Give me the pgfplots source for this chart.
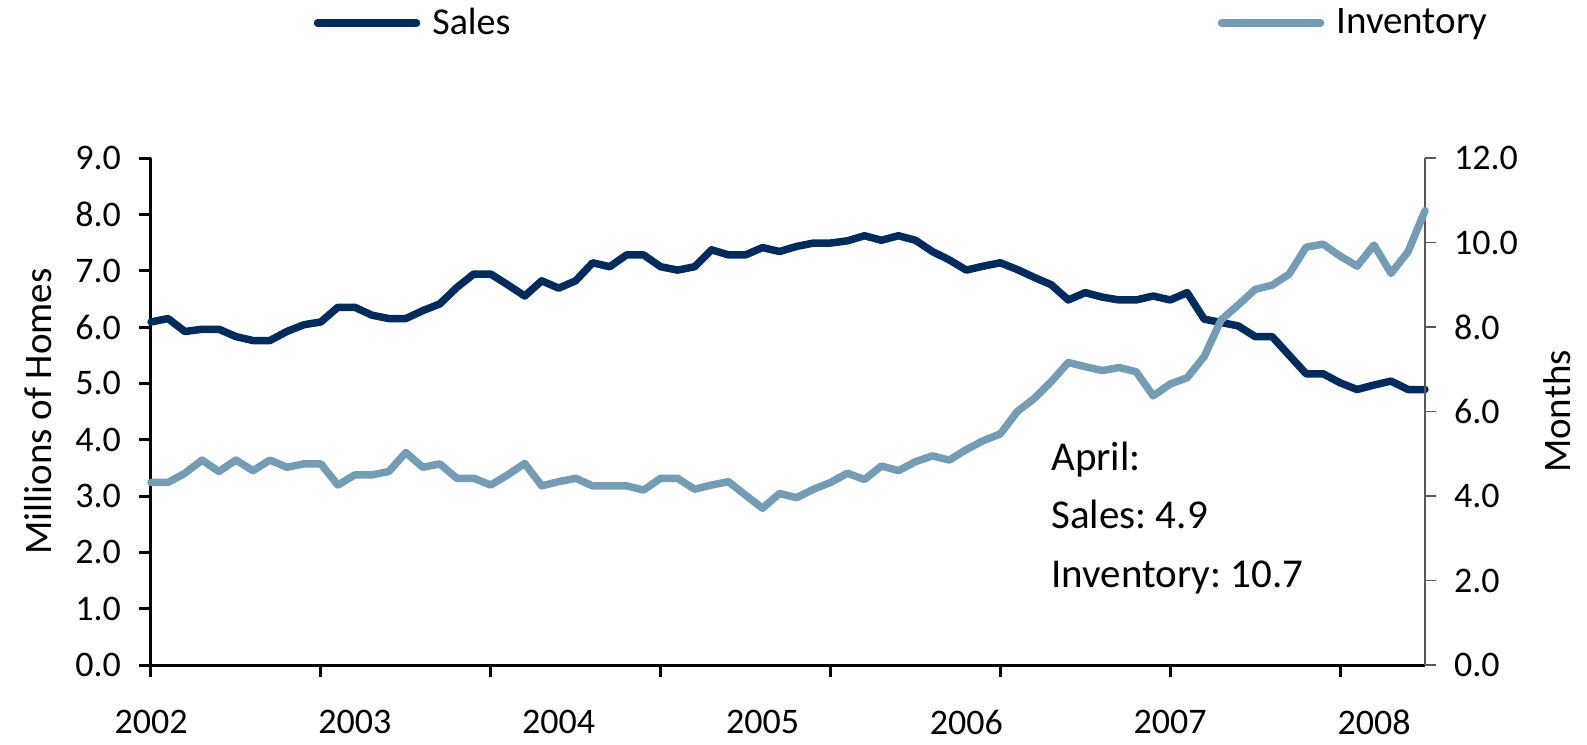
\documentclass[border=0pt]{standalone}
\usepackage{fontspec}
\setmainfont{Carlito}
\usepackage{pgfplots}
\pgfplotsset{compat=1.18}
\usepackage{pgfplotstable}
\definecolor{salescol}{HTML}{002B5C}
\definecolor{invcol}{HTML}{749CB4}
\frenchspacing

\pgfplotstableread{
m v
0 6.09
1 6.15
2 5.92
3 5.96
4 5.96
5 5.83
6 5.76
7 5.76
8 5.92
9 6.04
10 6.09
11 6.35
12 6.35
13 6.21
14 6.15
15 6.15
16 6.29
17 6.41
18 6.70
19 6.94
20 6.94
21 6.75
22 6.55
23 6.82
24 6.69
25 6.82
26 7.14
27 7.07
28 7.28
29 7.28
30 7.07
31 7.01
32 7.07
33 7.37
34 7.28
35 7.28
36 7.41
37 7.34
38 7.43
39 7.49
40 7.49
41 7.53
42 7.62
43 7.54
44 7.62
45 7.54
46 7.34
47 7.19
48 7.01
49 7.08
50 7.14
51 7.02
52 6.88
53 6.75
54 6.48
55 6.61
56 6.53
57 6.48
58 6.48
59 6.55
60 6.48
61 6.61
62 6.14
63 6.08
64 6.02
65 5.83
66 5.83
67 5.50
68 5.17
69 5.17
70 5.01
71 4.89
72 4.97
73 5.04
74 4.89
75 4.89
}\sales

\pgfplotstableread{
m v
0 4.32
1 4.32
2 4.54
3 4.85
4 4.58
5 4.85
6 4.60
7 4.85
8 4.68
9 4.76
10 4.76
11 4.26
12 4.50
13 4.50
14 4.58
15 5.03
16 4.68
17 4.76
18 4.42
19 4.42
20 4.26
21 4.50
22 4.77
23 4.24
24 4.34
25 4.42
26 4.24
27 4.24
28 4.24
29 4.14
30 4.42
31 4.42
32 4.16
33 4.26
34 4.34
35 4.02
36 3.71
37 4.06
38 3.96
39 4.16
40 4.32
41 4.54
42 4.39
43 4.71
44 4.60
45 4.81
46 4.95
47 4.85
48 5.10
49 5.31
50 5.47
51 6.00
52 6.31
53 6.71
54 7.16
55 7.06
56 6.97
57 7.04
58 6.94
59 6.37
60 6.65
61 6.80
62 7.30
63 8.17
64 8.52
65 8.89
66 8.99
67 9.25
68 9.89
69 9.96
70 9.68
71 9.44
72 9.94
73 9.27
74 9.78
75 10.75
}\inventory

\pgfplotsset{
  legimg/.style={legend image code/.code={\draw[##1,line width=3.75pt,line cap=round] (0pt,0pt) -- (49.5pt,0pt);}},
  onedec/.style={/pgf/number format/fixed, /pgf/number format/fixed zerofill, /pgf/number format/precision=1},
}

\begin{document}
\begin{tikzpicture}
\path[use as bounding box] (-75.5pt,-40pt) rectangle (718pt,332.5pt);
\begin{axis}[
  at={(0,0)}, anchor=south west,
  scale only axis, width=637pt, height=253.5pt,
  xmin=0, xmax=75, ymin=0, ymax=9,
  clip=false,
  axis x line*=bottom, axis y line*=left,
  axis line style={line width=1.5pt, black, -},
  xtick={0,10,...,70}, xticklabels={},
  extra x ticks={0,12,24,36,48,60,72},
  extra x tick labels={2002,2003,2004,2005,2006,2007,2008},
  extra x tick style={major tick length=0pt, xticklabel style={yshift=-19pt}},
  ytick={0,1,...,9},
  yticklabel style={onedec},
  /pgf/number format/assume math mode=true,
  tick align=outside, major tick length=6pt,
  tick style={line width=1.5pt, black},
  ticklabel style={font=\fontsize{18}{20}\selectfont},
  yticklabel style={xshift=-5.5pt},
  ylabel={Millions of Homes},
  ylabel style={at={(axis description cs:-0.0887,0.5)}, anchor=center, font=\fontsize{19.5}{22}\selectfont},
  legimg,
  legend style={at={(axis description cs:0.1278,1.2663)}, anchor=west, draw=none, fill=none,
    inner sep=0pt, outer sep=0pt, nodes={inner sep=3pt}, font=\fontsize{19}{22}\selectfont,
    /tikz/every odd column/.append style={column sep=3pt}},
]
\addplot[salescol, line width=3.75pt, line join=round, line cap=round] table[x=m,y=v]{\sales};
\addlegendentry{Sales}
\node[anchor=base west, inner sep=0pt, font=\fontsize{20.5}{24}\selectfont] at (rel axis cs:0.7064,0.3846) {April:};
\node[anchor=base west, inner sep=0pt, font=\fontsize{20.5}{24}\selectfont] at (rel axis cs:0.7064,0.2702) {Sales: 4.9};
\node[anchor=base west, inner sep=0pt, font=\fontsize{20.5}{24}\selectfont] at (rel axis cs:0.7064,0.1538) {Inventory: 10.7};
\end{axis}
\begin{axis}[
  at={(0,0)}, anchor=south west,
  scale only axis, width=637pt, height=253.5pt,
  xmin=0, xmax=75, ymin=0, ymax=12,
  clip=false,
  axis y line*=right, axis x line=none,
  axis line style={line width=0.75pt, black!65, -},
  ytick={0,2,...,12},
  yticklabel style={onedec},
  /pgf/number format/assume math mode=true,
  tick align=outside, major tick length=5.5pt,
  tick style={line width=0.75pt, black!65},
  ticklabel style={font=\fontsize{18}{20}\selectfont},
  yticklabel style={xshift=5.5pt},
  ylabel={Months},
  ylabel style={at={(axis description cs:1.104,0.5)}, anchor=center, font=\fontsize{19.5}{22}\selectfont},
  legimg,
  legend style={at={(axis description cs:0.8374,1.2663)}, anchor=west, draw=none, fill=none,
    inner sep=0pt, outer sep=0pt, nodes={inner sep=3pt}, font=\fontsize{19.5}{22}\selectfont,
    /tikz/every odd column/.append style={column sep=3pt}},
]
\addplot[invcol, line width=3.75pt, line join=round, line cap=round] table[x=m,y=v]{\inventory};
\addlegendentry{Inventory}
\end{axis}
\end{tikzpicture}
\end{document}
